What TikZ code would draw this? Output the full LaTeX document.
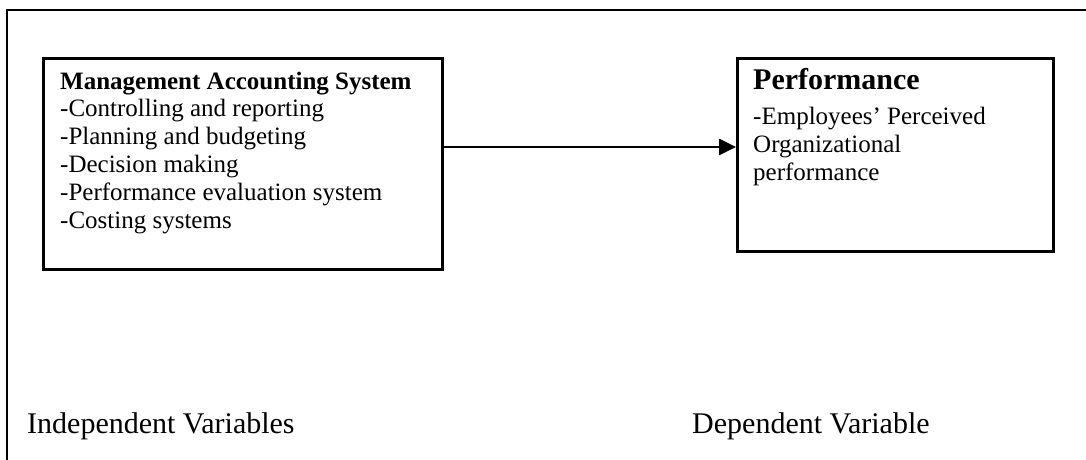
\documentclass[tikz,border=0pt]{standalone}
\usepackage{fontspec}
\setmainfont{Liberation Serif}
\usetikzlibrary{%
  positioning
 ,arrows.meta
 ,calc
}
\tikzstyle{frame}=[line width=2.6pt]
\tikzstyle{varbox}=[draw=black,line width=2.6pt,inner sep=0pt,anchor=north west]
\tikzstyle{boxtext}=[inner sep=0pt,anchor=base west,align=left,font=\fontsize{25}{27.8}\selectfont]
\tikzstyle{caption}=[inner sep=0pt,anchor=base west,font=\fontsize{30}{36}\selectfont]
\tikzstyle{link}=[line width=2.6pt,-{Triangle[length=17pt,width=16pt]}]

\begin{document}
\begin{tikzpicture}[x=1pt,y=-1pt]
  \useasboundingbox (0,0) rectangle (1086,460);
  % outer frame, open at right and bottom
  \draw[frame] (1086,10) -- (7,10) -- (7,460);
%
  \node[varbox,minimum width=399pt,minimum height=211pt] (mas)  at (42,57)  {};
  \node[varbox,minimum width=316pt,minimum height=193pt] (perf) at (736,57) {};
%
  % base anchor sits on the last line
  \node[boxtext] (mas_t) at ([shift={(18,171)}]mas.north west)
    {\textbf{Management Accounting System}\\
     -Controlling and reporting\\
     -Planning and budgeting\\
     -Decision making\\
     -Performance evaluation system\\
     -Costing systems};
  \node[boxtext] (perf_t) at ([shift={(17,123)}]perf.north west)
    {{\bfseries\fontsize{30}{33}\selectfont Performance}\\[7pt]
     -Employees’ Perceived\\
     Organizational\\
     performance};
%
  \coordinate (arr) at (0,147);
  \draw[link] (mas.east |- arr) -- (perf.west |- arr);
%
  \node[caption] (indep) at (27,433)  {Independent Variables};
  \node[caption] (dep)   at (692,433) {Dependent Variable};
\end{tikzpicture}
\end{document}
